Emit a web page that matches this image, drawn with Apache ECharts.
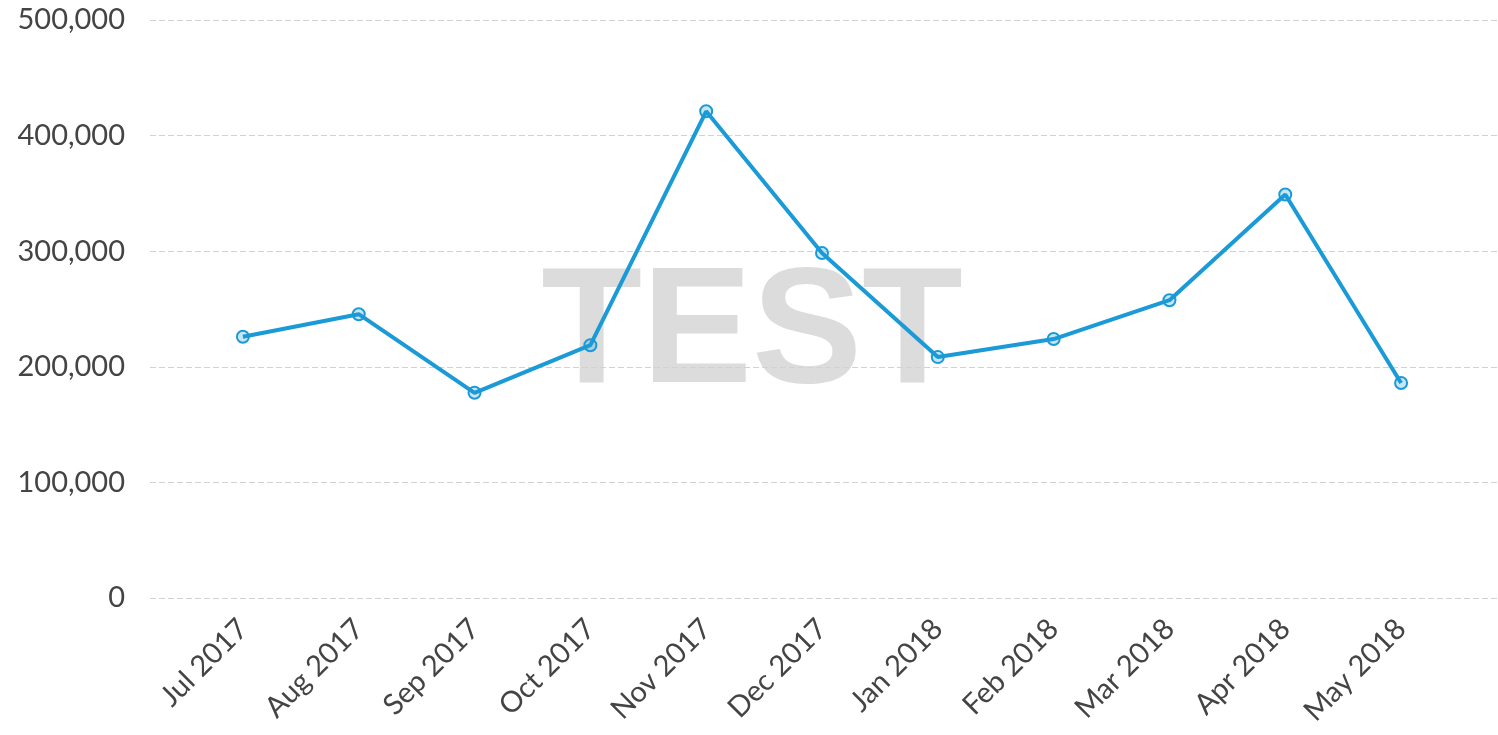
<!DOCTYPE html>
<html>
<head>
<meta charset="utf-8">
<script src="https://cdn.jsdelivr.net/npm/echarts@6/dist/echarts.min.js"></script>
<style>
  html, body { margin: 0; padding: 0; background: #fff; }
  #chart { width: 1498px; height: 735px; }
</style>
</head>
<body>
<div id="chart"></div>
<script>
var months = ['Jul 2017', 'Aug 2017', 'Sep 2017', 'Oct 2017', 'Nov 2017', 'Dec 2017',
              'Jan 2018', 'Feb 2018', 'Mar 2018', 'Apr 2018', 'May 2018'];
var totals = [226000, 245500, 177500, 218700, 421000, 298500, 208400, 224000, 257600, 349000, 186000];
var yTicks = [0, 100000, 200000, 300000, 400000, 500000];

var labelFont = 'Lato';
var blue = '#1a9ad6';

var chart = echarts.init(document.getElementById('chart'));

var option = {
    backgroundColor: '#ffffff',
    animation: false,
    // watermark
    graphic: [{
        type: 'text',
        x: 752,
        y: 336,
        z: -1,
        style: {
            text: 'TEST',
            fill: '#dcdcdc',
            font: 'bold 165px "Liberation Sans", Arial, sans-serif',
            textAlign: 'center',
            textVerticalAlign: 'middle',
            shadowColor: 'rgba(0,0,0,0.07)',
            shadowOffsetX: -7,
            shadowOffsetY: -7,
            shadowBlur: 1
        }
    }],
    grid: [
        { left: 150, right: 1, top: 20, bottom: 137 },   // gridlines + y labels
        { left: 185, right: 39, top: 20, bottom: 137 }   // line series
    ],
    xAxis: [
        { gridIndex: 0, type: 'value', show: false },
        {
            gridIndex: 1,
            type: 'category',
            data: months,
            boundaryGap: true,
            axisLine: { show: false },
            axisTick: { show: false },
            axisLabel: {
                rotate: 45,
                margin: 26,
                interval: 0,
                fontFamily: labelFont,
                fontSize: 29,
                color: '#444'
            }
        }
    ],
    yAxis: [
        {
            gridIndex: 0,
            type: 'value',
            min: yTicks[0],
            max: yTicks[yTicks.length - 1],
            interval: yTicks[1] - yTicks[0],
            axisLine: { show: false },
            axisTick: { show: false },
            axisLabel: {
                margin: 25,
                fontFamily: labelFont,
                fontSize: 29,
                color: '#444',
                formatter: function (v) { return v.toLocaleString('en-US'); }
            },
            splitLine: {
                lineStyle: { color: '#d2d2d2', width: 1, type: [6, 3] }
            }
        },
        {
            gridIndex: 1,
            type: 'value',
            min: yTicks[0],
            max: yTicks[yTicks.length - 1],
            show: false
        }
    ],
    series: [{
        type: 'line',
        xAxisIndex: 1,
        yAxisIndex: 1,
        data: totals,
        symbol: 'circle',
        symbolSize: 12,
        lineStyle: { color: blue, width: 4 },
        itemStyle: {
            color: 'rgba(26,154,214,0.25)',
            borderColor: blue,
            borderWidth: 2
        },
        z: 3
    }]
};

chart.setOption(option);
</script>
</body>
</html>
